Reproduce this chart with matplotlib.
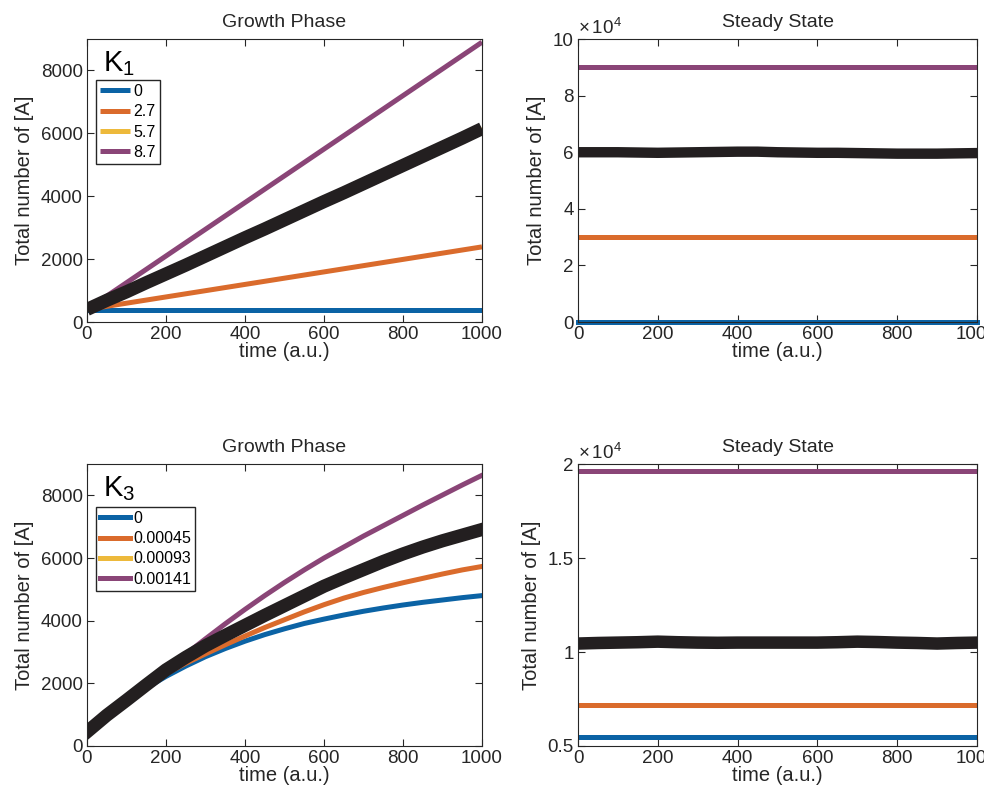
import matplotlib.pyplot as plt
from matplotlib.ticker import FuncFormatter

plt.rcParams['font.family'] = ['Liberation Sans', 'DejaVu Sans']
plt.rcParams['mathtext.default'] = 'regular'

blue = '#0B63A5'
orange = '#DA6B2C'
yellow = '#EDB93B'
purple = '#8A4577'
black = '#231F20'
rate_colors = [blue, orange, yellow, purple]

t = [0, 50, 100, 150, 200, 250, 300, 350, 400, 450, 500,
     550, 600, 650, 700, 750, 800, 850, 900, 950, 1000]
t_ends = [0, 1000]

# growth phase, K1 sweep (straight lines)
k1_labels = ['0', '2.7', '5.7', '8.7']
k1_growth = [[380, 380], [400, 2390], [400, 6150], [400, 8900]]
k1_sim = [400, 690, 960, 1250, 1530, 1810, 2100, 2390, 2680, 2960, 3250,
          3540, 3830, 4110, 4400, 4690, 4980, 5270, 5560, 5850, 6150]

# steady state, K1 sweep
k1_steady = [[0, 0], [3.0e4, 3.0e4], [6.0e4, 6.0e4], [9.0e4, 9.0e4]]
k1_steady_sim = [6.0e4, 6.0e4, 6.0e4, 5.99e4, 5.98e4, 5.99e4, 6.0e4, 6.01e4, 6.02e4, 6.02e4, 6.0e4,
                 5.99e4, 5.98e4, 5.98e4, 5.97e4, 5.96e4, 5.95e4, 5.95e4, 5.95e4, 5.96e4, 5.97e4]

# growth phase, K3 sweep
k3_labels = ['0', '0.00045', '0.00093', '0.00141']
k3_growth = [
    [450, 970, 1435, 1850, 2220, 2550, 2850, 3110, 3345, 3555, 3740,
     3910, 4050, 4180, 4300, 4405, 4500, 4585, 4660, 4735, 4800],
    [450, 975, 1450, 1900, 2310, 2640, 2940, 3230, 3510, 3780, 4030,
     4280, 4510, 4720, 4900, 5060, 5210, 5350, 5490, 5620, 5730],
    [450, 980, 1460, 1950, 2430, 2830, 3200, 3530, 3850, 4170, 4480,
     4790, 5100, 5370, 5630, 5890, 6130, 6350, 6550, 6730, 6910],
    [450, 980, 1460, 1950, 2430, 2930, 3420, 3900, 4360, 4800, 5220,
     5620, 6000, 6350, 6700, 7030, 7360, 7690, 8010, 8330, 8640],
]
k3_sim = [450, 980, 1460, 1950, 2430, 2830, 3200, 3530, 3850, 4170, 4480,
          4790, 5100, 5370, 5630, 5890, 6130, 6350, 6550, 6730, 6910]

# steady state, K3 sweep
k3_steady = [[0.55e4, 0.55e4], [0.72e4, 0.72e4], [1.05e4, 1.05e4], [1.965e4, 1.965e4]]
k3_steady_sim = [1.045e4, 1.048e4, 1.05e4, 1.052e4, 1.055e4, 1.052e4, 1.05e4, 1.049e4, 1.05e4, 1.05e4, 1.05e4,
                 1.05e4, 1.05e4, 1.052e4, 1.055e4, 1.053e4, 1.05e4, 1.048e4, 1.045e4, 1.048e4, 1.05e4]

fig = plt.figure(figsize=(9.84, 7.92), dpi=100)
ax_tl = fig.add_axes([0.0884, 0.5934, 0.4014, 0.3573])
ax_tr = fig.add_axes([0.5874, 0.5934, 0.4055, 0.3573])
ax_bl = fig.add_axes([0.0884, 0.0581, 0.4014, 0.356])
ax_br = fig.add_axes([0.5874, 0.0581, 0.4055, 0.356])

txt = '#262626'


def style(ax, title):
    ax.set_title(title, fontsize=14, pad=9, color=txt)
    ax.set_xlabel('time (a.u.)', fontsize=14.5, labelpad=-1, color=txt)
    ax.set_ylabel('Total number of [A]', fontsize=14.5, labelpad=5, color=txt)
    ax.set_xlim(0, 1000)
    ax.set_xticks([0, 200, 400, 600, 800, 1000])
    ax.tick_params(direction='in', top=True, right=True, length=5, width=0.8,
                   labelsize=13.5, colors=txt, pad=3)
    for s in ax.spines.values():
        s.set_color(txt)
        s.set_linewidth(0.8)


def add_legend(ax, y):
    ax.legend(loc='upper left', bbox_to_anchor=(0.023, y), fontsize=11.5, handlelength=1.9,
              handletextpad=0.2, borderpad=0.25, labelspacing=0.33, frameon=True,
              fancybox=False, edgecolor=txt, borderaxespad=0, framealpha=1)


def add_offset(ax):
    ax.yaxis.set_major_formatter(FuncFormatter(lambda v, p: '%g' % (v / 1e4)))
    ax.text(0.0, 1.005, r'$\times\,10^4$', transform=ax.transAxes, fontsize=13.5,
            va='bottom', ha='left', color=txt)


# top left
style(ax_tl, 'Growth Phase')
for vals, c, lab in zip(k1_growth, rate_colors, k1_labels):
    ax_tl.plot(t_ends, vals, color=c, lw=3.6, label=lab, solid_capstyle='butt')
ax_tl.plot(t, k1_sim, color=black, lw=9.5, solid_capstyle='butt')
ax_tl.set_ylim(0, 9000)
ax_tl.set_yticks([0, 2000, 4000, 6000, 8000])
ax_tl.text(0.04, 0.965, 'K$_1$', transform=ax_tl.transAxes, fontsize=21, va='top', ha='left')
add_legend(ax_tl, 0.855)

# top right
style(ax_tr, 'Steady State')
for vals, c in zip(k1_steady, rate_colors):
    ax_tr.plot(t_ends, vals, color=c, lw=3.6, clip_on=(vals[0] != 0))
ax_tr.plot(t, k1_steady_sim, color=black, lw=7.5)
ax_tr.set_ylim(0, 1e5)
ax_tr.set_yticks([0, 2e4, 4e4, 6e4, 8e4, 10e4])
add_offset(ax_tr)

# bottom left
style(ax_bl, 'Growth Phase')
for vals, c, lab in zip(k3_growth, rate_colors, k3_labels):
    ax_bl.plot(t, vals, color=c, lw=3.6, label=lab)
ax_bl.plot(t, k3_sim, color=black, lw=9.5)
ax_bl.set_ylim(0, 9000)
ax_bl.set_yticks([0, 2000, 4000, 6000, 8000])
ax_bl.text(0.04, 0.965, 'K$_3$', transform=ax_bl.transAxes, fontsize=21, va='top', ha='left')
add_legend(ax_bl, 0.848)

# bottom right
style(ax_br, 'Steady State')
for vals, c in zip(k3_steady, rate_colors):
    ax_br.plot(t_ends, vals, color=c, lw=3.6)
ax_br.plot(t, k3_steady_sim, color=black, lw=9)
ax_br.set_ylim(0.5e4, 2e4)
ax_br.set_yticks([0.5e4, 1e4, 1.5e4, 2e4])
add_offset(ax_br)

fig.savefig('out.png', dpi=100)
